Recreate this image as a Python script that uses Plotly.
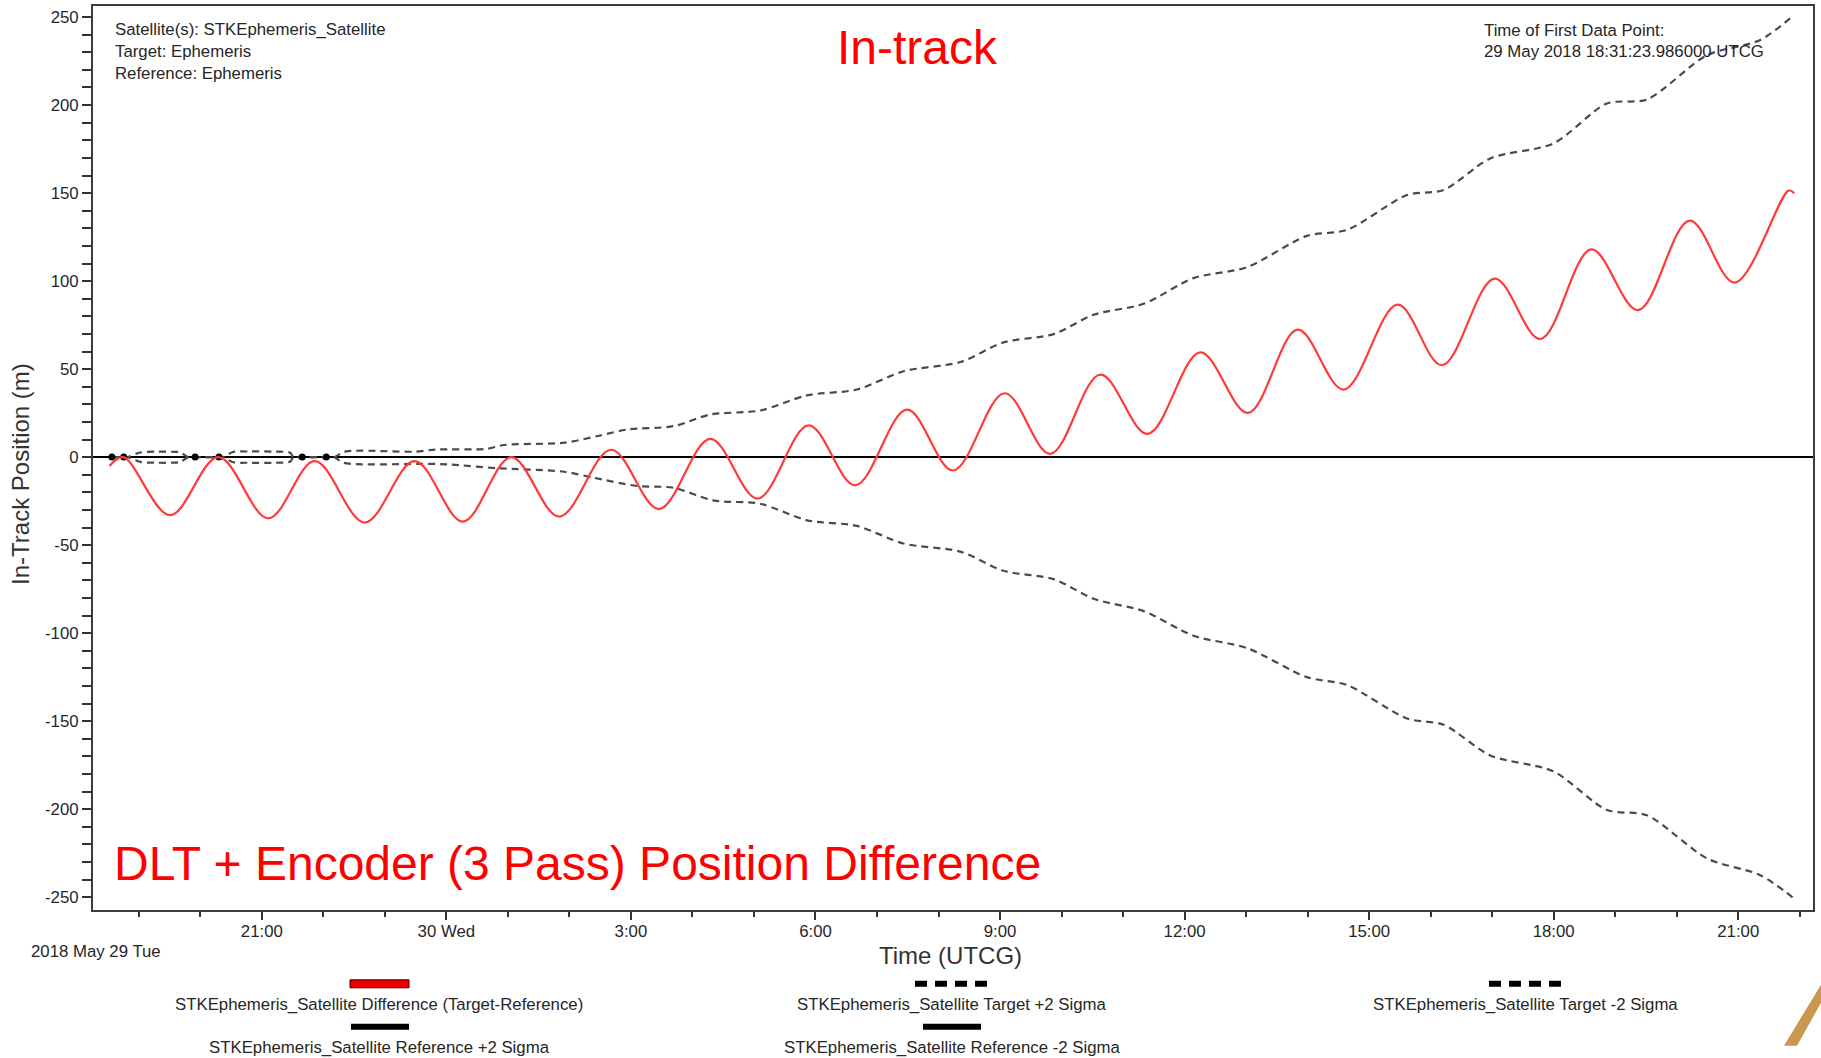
import pandas as pd
import plotly.graph_objects as go

# ---- data (clock hours counted from 2018-05-29 00:00 UTCG) ----
diff_hours = [18.523, 18.749, 19.509, 20.293, 21.106, 21.860, 22.673, 23.485, 24.269,
              25.054, 25.836, 26.678, 27.456, 28.290, 29.059, 29.888, 30.647, 31.488,
              32.235, 33.074, 33.817, 34.630, 35.399, 36.255, 37.031, 37.837, 38.585,
              39.462, 40.184, 41.039, 41.782, 42.611, 43.370, 44.209, 44.940, 45.818, 45.911]
diff_vals = [-5, 0, -33, 0, -34.8, -2.3, -37.2, -2.3, -36.6,
             0, -33.8, 4.2, -29.5, 10.4, -23.6, 18, -16, 27,
             -7.6, 36.3, 1.9, 46.9, 13.2, 59.5, 25.1, 72.4, 38.4,
             86.6, 52.2, 101.4, 67.1, 118, 83.5, 134.4, 99.2, 151.4, 149.9]

tgt_plus_hours = [18.563, 18.755, 18.814, 19.025, 19.301, 19.594, 19.675, 19.805,
                  19.916, 20.304, 20.381, 20.520, 20.813, 21.220, 21.463, 21.512,
                  21.657, 22.047, 22.178, 22.357, 23.479, 23.837, 24.650, 24.942,
                  25.917, 26.502, 26.936, 27.694, 28.290, 29.103, 29.862, 30.675,
                  31.432, 32.354, 33.058, 33.871, 34.521, 35.334, 36.146, 37.014,
                  37.989, 38.640, 39.615, 40.210, 40.969, 41.993, 42.866, 43.516,
                  44.492, 45.358, 45.899]
tgt_plus_vals = [0, 0, 0, 2.6, 3.1, 3.0, 2.8, 0,
                 0, 0, 0, 2.8, 3.2, 3.1, 2.5, 0,
                 0, 0, 0, 3.1, 3.1, 4.3, 4.7, 6.9,
                 8.2, 12.3, 15.7, 17.6, 24.2, 26.5, 35.1, 38.4,
                 48.8, 54.0, 65.2, 69.9, 80.9, 87.1, 101.7, 107.9,
                 125.7, 129.1, 148.9, 151.8, 169.7, 178.2, 200.9, 203.2,
                 228.3, 237.0, 250.9]

tgt_minus_hours = [18.563, 18.755, 18.814, 19.025, 19.301, 19.594, 19.675, 19.805,
                   19.916, 20.304, 20.381, 20.520, 20.813, 21.220, 21.463, 21.512,
                   21.657, 22.047, 22.178, 22.325, 23.723, 24.064, 24.828, 25.917,
                   26.389, 27.099, 27.689, 28.339, 29.103, 29.862, 30.675, 31.432,
                   32.354, 33.058, 33.871, 34.521, 35.334, 36.146, 37.014, 37.989,
                   38.640, 39.615, 40.210, 40.969, 41.993, 42.866, 43.516, 44.492,
                   45.358, 45.899]
tgt_minus_vals = [0, 0, 0, -2.7, -3.2, -3.1, -2.8, 0,
                  0, 0, 0, -2.8, -3.2, -3.2, -2.5, 0,
                  0, 0, 0, -3.2, -3.8, -4.2, -6.3, -8.3,
                  -11.7, -16.4, -17.4, -24.6, -26.5, -35.9, -39.1, -49.1,
                  -53.7, -64.6, -69.3, -80.5, -87.5, -101.5, -108.5, -125.0,
                  -129.5, -148.5, -152.0, -169.5, -178.5, -200.5, -203.5, -228.0,
                  -237.5, -250.5]

ref_hours = [18.523, 45.911]
ref_plus_vals = [0, 0]
ref_minus_vals = [0, 0]

node_hours = [18.563, 18.755, 19.916, 20.304, 21.657, 22.047]
node_vals = [0, 0, 0, 0, 0, 0]

x_tick_hours = [21, 24, 27, 30, 33, 36, 39, 42, 45]
x_tick_labels = ["21:00", "30 Wed", "3:00", "6:00", "9:00", "12:00", "15:00", "18:00", "21:00"]
y_tick_vals = [-250, -200, -150, -100, -50, 0, 50, 100, 150, 200, 250]
y_tick_labels = ["-250", "-200", "-150", "-100", "-50", "0", "50", "100", "150", "200", "250"]

legend_names = [
    "STKEphemeris_Satellite Difference (Target-Reference)",
    "STKEphemeris_Satellite Target +2 Sigma",
    "STKEphemeris_Satellite Target -2 Sigma",
    "STKEphemeris_Satellite Reference +2 Sigma",
    "STKEphemeris_Satellite Reference -2 Sigma",
]

DAY0 = pd.Timestamp("2018-05-29")


def clock(hours):
    return [DAY0 + pd.Timedelta(hours=h) for h in hours]


W, H = 1821, 1058
X0, X1, Y0, Y1 = 93, 1813, 4, 910   # plot area in pixels


def px(x):
    return (x - X0) / (X1 - X0)


def py(y):
    return (Y1 - y) / (Y1 - Y0)


FONT = "Arial, Liberation Sans, sans-serif"
TXT = "#262626"
DASH_GREY = "#4a4a4a"
SMALL = 16.8

fig = go.Figure()

fig.add_trace(go.Scatter(x=clock(ref_hours), y=ref_plus_vals, mode="lines",
                         line=dict(color="black", width=2), name=legend_names[3],
                         showlegend=False))
fig.add_trace(go.Scatter(x=clock(ref_hours), y=ref_minus_vals, mode="lines",
                         line=dict(color="black", width=2), name=legend_names[4],
                         showlegend=False))
fig.add_trace(go.Scatter(x=clock(tgt_plus_hours), y=tgt_plus_vals, mode="lines",
                         line=dict(color=DASH_GREY, width=2.2, dash="7px,5px",
                                   shape="spline", smoothing=0.8),
                         name=legend_names[1], showlegend=False))
fig.add_trace(go.Scatter(x=clock(tgt_minus_hours), y=tgt_minus_vals, mode="lines",
                         line=dict(color=DASH_GREY, width=2.2, dash="7px,5px",
                                   shape="spline", smoothing=0.8),
                         name=legend_names[2], showlegend=False))
fig.add_trace(go.Scatter(x=clock(node_hours), y=node_vals, mode="markers",
                         marker=dict(color="black", size=7), showlegend=False,
                         hoverinfo="skip"))
fig.add_trace(go.Scatter(x=clock(diff_hours), y=diff_vals, mode="lines",
                         line=dict(color="#ff3a3a", width=2.2, shape="spline", smoothing=1.0),
                         name=legend_names[0], showlegend=False))

tick_font = dict(family=FONT, size=SMALL, color=TXT)

fig.update_layout(
    width=W, height=H,
    margin=dict(l=X0, r=W - X1, t=Y0, b=H - Y1, pad=0),
    paper_bgcolor="white", plot_bgcolor="white",
    showlegend=False,
    font=dict(family=FONT, size=SMALL, color=TXT),
    xaxis=dict(
        type="date",
        range=clock([18.256, 46.215]),
        tickmode="array", tickvals=clock(x_tick_hours), ticktext=x_tick_labels,
        ticks="outside", ticklen=8, tickwidth=1.5, tickcolor="#333",
        tickfont=tick_font, ticklabelstandoff=-3,
        minor=dict(tickmode="linear", tick0="2018-05-29", dtick=3600000,
                   ticks="outside", ticklen=5, tickwidth=1.5, tickcolor="#333"),
        showline=True, linecolor="#3c3c3c", linewidth=2, mirror=True,
        showgrid=False, zeroline=False,
    ),
    yaxis=dict(
        range=[-257.3, 256.3],
        tickmode="array", tickvals=y_tick_vals, ticktext=y_tick_labels,
        ticks="outside", ticklen=9, tickwidth=1.5, tickcolor="#333",
        tickfont=tick_font,
        minor=dict(tickmode="linear", tick0=0, dtick=10,
                   ticks="outside", ticklen=9, tickwidth=1.5, tickcolor="#333"),
        showline=True, linecolor="#3c3c3c", linewidth=2, mirror=True,
        showgrid=False, zeroline=True, zerolinecolor="black", zerolinewidth=2,
    ),
)

ann = []


def text(x, y, s, size=SMALL, color=TXT, xanchor="left", angle=0):
    ann.append(dict(x=px(x), y=py(y), xref="paper", yref="paper", text=s,
                    showarrow=False, xanchor=xanchor, yanchor="middle",
                    textangle=angle, font=dict(family=FONT, size=size, color=color)))


# info boxes inside the plot
text(113, 28, "Satellite(s): STKEphemeris_Satellite")
text(113, 50, "Target: Ephemeris")
text(113, 72, "Reference: Ephemeris")
text(1482, 29, "Time of First Data Point:")
text(1482, 50, "29 May 2018 18:31:23.986000 UTCG")

# red headline labels
text(917, 46, "In-track", size=48, color="#ff0000", xanchor="center")
text(112, 863, "DLT + Encoder (3 Pass) Position Difference", size=48, color="#ff0000")

# axis titles and date label
text(950, 956, "Time (UTCG)", size=24, color="#333", xanchor="center")
text(21, 473, "In-Track Position (m)", size=24, color="#333", xanchor="center", angle=-90)
text(29, 952, "2018 May 29 Tue")

# legend labels
legend_pos = [(379, 1005), (952, 1005), (1525, 1005), (379, 1048), (952, 1048)]
for name, (lx, ly) in zip(legend_names, legend_pos):
    text(lx, ly, name, xanchor="center")

fig.update_layout(annotations=ann)

shapes = []


def swatch_line(xa, xb, y, color, width, dash="solid"):
    shapes.append(dict(type="line", xref="paper", yref="paper",
                       x0=px(xa), x1=px(xb), y0=py(y), y1=py(y),
                       line=dict(color=color, width=width, dash=dash)))


# difference swatch: red bar with dark rim
shapes.append(dict(type="rect", xref="paper", yref="paper",
                   x0=px(350), x1=px(409), y0=py(988), y1=py(980),
                   fillcolor="#ee0000", line=dict(color="#3a0000", width=1)))
swatch_line(915, 987, 984, "black", 6, "12px,8px")
swatch_line(1489, 1561, 984, "black", 6, "12px,8px")
swatch_line(351, 409, 1027, "black", 6)
swatch_line(923, 981, 1027, "black", 6)

# corner logo fragment
shapes.append(dict(type="path", xref="paper", yref="paper",
                   path=("M {a},{b} L {c},{d} L {e},{f} L {g},{h} Z").format(
                       a=px(1784), b=py(1046), c=px(1797), d=py(1046),
                       e=px(1821), f=py(1003), g=px(1821), h=py(985)),
                   fillcolor="#c9974e", line=dict(width=0)))

fig.update_layout(shapes=shapes)

fig.write_html("out.html")
